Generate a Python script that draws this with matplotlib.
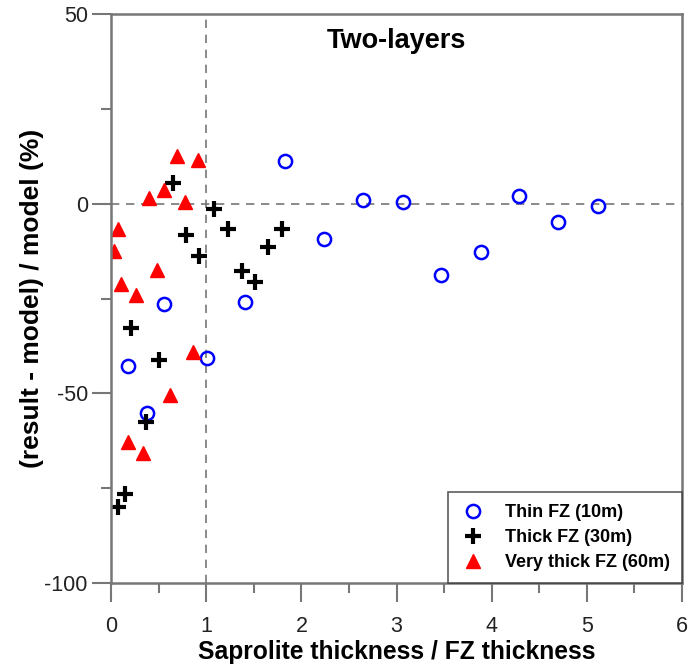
import matplotlib
matplotlib.use("Agg")
import matplotlib.pyplot as plt
from matplotlib.ticker import MultipleLocator

plt.rcParams["font.family"] = ["Liberation Sans", "DejaVu Sans"]
plt.rcParams["axes.unicode_minus"] = False

# Thin FZ (10m)
thin_x = [0.178, 0.371, 0.557, 1.003, 1.41, 1.826, 2.237, 2.65, 3.065, 3.468, 3.885, 4.288, 4.70, 5.116]
thin_y = [-42.8, -55.1, -26.5, -40.6, -26.0, 11.3, -9.4, 1.0, 0.4, -18.8, -12.7, 2.0, -4.7, -0.6]

# Thick FZ (30m)
thick_x = [0.073, 0.143, 0.206, 0.36, 0.504, 0.645, 0.785, 0.925, 1.083, 1.23, 1.37, 1.51, 1.65, 1.79]
thick_y = [-79.9, -76.4, -32.9, -57.6, -41.2, 5.5, -8.2, -13.8, -1.5, -6.8, -17.7, -20.6, -11.5, -6.8]

# Very thick FZ (60m)
vthick_x = [0.03, 0.073, 0.10, 0.18, 0.26, 0.335, 0.40, 0.476, 0.557, 0.617, 0.69, 0.774, 0.855, 0.914]
vthick_y = [-12.4, -6.8, -21.2, -62.7, -24.1, -65.8, 1.4, -17.5, 3.6, -50.4, 12.7, 0.4, -39.0, 11.5]

fig = plt.figure(figsize=(6.94, 6.68), dpi=100)
ax = fig.add_axes([0.1605, 0.1272, 0.8218, 0.8518])

grey = "#777777"
ax.axhline(0, color=grey, ls=(0, (5, 4)), lw=1.2, zorder=1)
ax.axvline(1, color=grey, ls=(0, (5, 4)), lw=1.2, zorder=1)

ax.plot(thin_x, thin_y, "o", ms=9.5, mfc="none", mec="blue", mew=1.8, ls="none", label="Thin FZ (10m)")
ax.plot(thick_x, thick_y, "+", ms=12, mec="black", mew=3, ls="none", label="Thick FZ (30m)")
ax.plot(vthick_x, vthick_y, "^", ms=10, mfc="red", mec="red", ls="none", label="Very thick FZ (60m)")

ax.set_xlim(0, 6)
ax.set_ylim(-100, 50)
ax.xaxis.set_major_locator(MultipleLocator(1))
ax.xaxis.set_minor_locator(MultipleLocator(0.5))
ax.yaxis.set_major_locator(MultipleLocator(50))
ax.yaxis.set_minor_locator(MultipleLocator(25))
ax.tick_params(which="major", direction="out", length=14, width=1.5, color=grey, labelsize=15.5, labelcolor="#222222")
ax.tick_params(which="minor", direction="out", length=7, width=1.5, color=grey)
ax.tick_params(axis="x", which="major", pad=10)
ax.tick_params(axis="y", which="major", pad=3)
for s in ax.spines.values():
    s.set_color(grey)
    s.set_linewidth(1.8)

ax.set_xlabel("Saprolite thickness / FZ thickness", fontsize=17.7, fontweight="bold", labelpad=2)
ax.set_ylabel("(result - model) / model (%)", fontsize=19, fontweight="bold", labelpad=0.5)
ax.text(3.0, 43, "Two-layers", fontsize=19.5, fontweight="bold", ha="center", va="center")

leg = ax.legend(loc="lower right", prop={"weight": "bold", "size": 13}, frameon=True,
                fancybox=False, borderaxespad=0, handletextpad=1.0, handlelength=1.5,
                borderpad=0.65, labelspacing=0.45)
leg.get_frame().set_edgecolor("#333333")
leg.get_frame().set_linewidth(1.2)

fig.savefig("out.png", dpi=100)
